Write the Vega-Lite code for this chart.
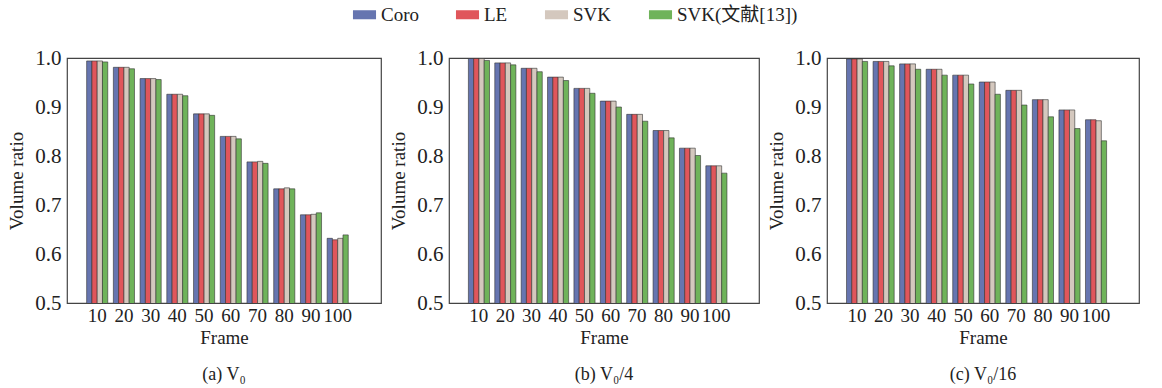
{
  "$schema": "https://vega.github.io/schema/vega-lite/v6.json",
  "padding": {"left": 7, "top": 4, "right": 0, "bottom": 0},
  "background": "white",
  "config": {
    "font": "Liberation Serif, Noto Sans CJK SC",
    "view": {"stroke": "#444", "strokeWidth": 1.2},
    "axis": {"grid": false, "ticks": false, "domain": false, "labelColor": "#222", "titleColor": "#222", "titleFontWeight": "normal", "labelFont": "Liberation Serif", "titleFont": "Liberation Serif"},
    "title": {"font": "Liberation Serif", "fontWeight": "normal", "fontSize": 18, "color": "#222"}
  },
  "datasets": {
    "a": [
      {"frame": 10, "method": "Coro", "value": 0.994}, {"frame": 10, "method": "LE", "value": 0.994}, {"frame": 10, "method": "SVK", "value": 0.994}, {"frame": 10, "method": "SVK(文献[13])", "value": 0.992},
      {"frame": 20, "method": "Coro", "value": 0.981}, {"frame": 20, "method": "LE", "value": 0.981}, {"frame": 20, "method": "SVK", "value": 0.981}, {"frame": 20, "method": "SVK(文献[13])", "value": 0.978},
      {"frame": 30, "method": "Coro", "value": 0.958}, {"frame": 30, "method": "LE", "value": 0.958}, {"frame": 30, "method": "SVK", "value": 0.958}, {"frame": 30, "method": "SVK(文献[13])", "value": 0.956},
      {"frame": 40, "method": "Coro", "value": 0.926}, {"frame": 40, "method": "LE", "value": 0.926}, {"frame": 40, "method": "SVK", "value": 0.926}, {"frame": 40, "method": "SVK(文献[13])", "value": 0.923},
      {"frame": 50, "method": "Coro", "value": 0.886}, {"frame": 50, "method": "LE", "value": 0.886}, {"frame": 50, "method": "SVK", "value": 0.886}, {"frame": 50, "method": "SVK(文献[13])", "value": 0.883},
      {"frame": 60, "method": "Coro", "value": 0.840}, {"frame": 60, "method": "LE", "value": 0.840}, {"frame": 60, "method": "SVK", "value": 0.840}, {"frame": 60, "method": "SVK(文献[13])", "value": 0.835},
      {"frame": 70, "method": "Coro", "value": 0.788}, {"frame": 70, "method": "LE", "value": 0.788}, {"frame": 70, "method": "SVK", "value": 0.789}, {"frame": 70, "method": "SVK(文献[13])", "value": 0.785},
      {"frame": 80, "method": "Coro", "value": 0.733}, {"frame": 80, "method": "LE", "value": 0.733}, {"frame": 80, "method": "SVK", "value": 0.735}, {"frame": 80, "method": "SVK(文献[13])", "value": 0.733},
      {"frame": 90, "method": "Coro", "value": 0.680}, {"frame": 90, "method": "LE", "value": 0.680}, {"frame": 90, "method": "SVK", "value": 0.681}, {"frame": 90, "method": "SVK(文献[13])", "value": 0.684},
      {"frame": 100, "method": "Coro", "value": 0.632}, {"frame": 100, "method": "LE", "value": 0.629}, {"frame": 100, "method": "SVK", "value": 0.632}, {"frame": 100, "method": "SVK(文献[13])", "value": 0.639}
    ],
    "b": [
      {"frame": 10, "method": "Coro", "value": 0.999}, {"frame": 10, "method": "LE", "value": 0.999}, {"frame": 10, "method": "SVK", "value": 0.999}, {"frame": 10, "method": "SVK(文献[13])", "value": 0.995},
      {"frame": 20, "method": "Coro", "value": 0.990}, {"frame": 20, "method": "LE", "value": 0.990}, {"frame": 20, "method": "SVK", "value": 0.990}, {"frame": 20, "method": "SVK(文献[13])", "value": 0.986},
      {"frame": 30, "method": "Coro", "value": 0.979}, {"frame": 30, "method": "LE", "value": 0.979}, {"frame": 30, "method": "SVK", "value": 0.979}, {"frame": 30, "method": "SVK(文献[13])", "value": 0.972},
      {"frame": 40, "method": "Coro", "value": 0.961}, {"frame": 40, "method": "LE", "value": 0.961}, {"frame": 40, "method": "SVK", "value": 0.961}, {"frame": 40, "method": "SVK(文献[13])", "value": 0.954},
      {"frame": 50, "method": "Coro", "value": 0.938}, {"frame": 50, "method": "LE", "value": 0.938}, {"frame": 50, "method": "SVK", "value": 0.938}, {"frame": 50, "method": "SVK(文献[13])", "value": 0.928},
      {"frame": 60, "method": "Coro", "value": 0.912}, {"frame": 60, "method": "LE", "value": 0.912}, {"frame": 60, "method": "SVK", "value": 0.912}, {"frame": 60, "method": "SVK(文献[13])", "value": 0.900},
      {"frame": 70, "method": "Coro", "value": 0.885}, {"frame": 70, "method": "LE", "value": 0.885}, {"frame": 70, "method": "SVK", "value": 0.885}, {"frame": 70, "method": "SVK(文献[13])", "value": 0.871},
      {"frame": 80, "method": "Coro", "value": 0.852}, {"frame": 80, "method": "LE", "value": 0.852}, {"frame": 80, "method": "SVK", "value": 0.852}, {"frame": 80, "method": "SVK(文献[13])", "value": 0.837},
      {"frame": 90, "method": "Coro", "value": 0.816}, {"frame": 90, "method": "LE", "value": 0.816}, {"frame": 90, "method": "SVK", "value": 0.816}, {"frame": 90, "method": "SVK(文献[13])", "value": 0.801},
      {"frame": 100, "method": "Coro", "value": 0.780}, {"frame": 100, "method": "LE", "value": 0.780}, {"frame": 100, "method": "SVK", "value": 0.780}, {"frame": 100, "method": "SVK(文献[13])", "value": 0.765}
    ],
    "c": [
      {"frame": 10, "method": "Coro", "value": 0.998}, {"frame": 10, "method": "LE", "value": 0.998}, {"frame": 10, "method": "SVK", "value": 0.998}, {"frame": 10, "method": "SVK(文献[13])", "value": 0.993},
      {"frame": 20, "method": "Coro", "value": 0.993}, {"frame": 20, "method": "LE", "value": 0.993}, {"frame": 20, "method": "SVK", "value": 0.993}, {"frame": 20, "method": "SVK(文献[13])", "value": 0.984},
      {"frame": 30, "method": "Coro", "value": 0.988}, {"frame": 30, "method": "LE", "value": 0.988}, {"frame": 30, "method": "SVK", "value": 0.988}, {"frame": 30, "method": "SVK(文献[13])", "value": 0.977},
      {"frame": 40, "method": "Coro", "value": 0.977}, {"frame": 40, "method": "LE", "value": 0.977}, {"frame": 40, "method": "SVK", "value": 0.977}, {"frame": 40, "method": "SVK(文献[13])", "value": 0.965},
      {"frame": 50, "method": "Coro", "value": 0.965}, {"frame": 50, "method": "LE", "value": 0.965}, {"frame": 50, "method": "SVK", "value": 0.965}, {"frame": 50, "method": "SVK(文献[13])", "value": 0.947},
      {"frame": 60, "method": "Coro", "value": 0.951}, {"frame": 60, "method": "LE", "value": 0.951}, {"frame": 60, "method": "SVK", "value": 0.951}, {"frame": 60, "method": "SVK(文献[13])", "value": 0.926},
      {"frame": 70, "method": "Coro", "value": 0.934}, {"frame": 70, "method": "LE", "value": 0.934}, {"frame": 70, "method": "SVK", "value": 0.934}, {"frame": 70, "method": "SVK(文献[13])", "value": 0.904},
      {"frame": 80, "method": "Coro", "value": 0.915}, {"frame": 80, "method": "LE", "value": 0.915}, {"frame": 80, "method": "SVK", "value": 0.915}, {"frame": 80, "method": "SVK(文献[13])", "value": 0.880},
      {"frame": 90, "method": "Coro", "value": 0.894}, {"frame": 90, "method": "LE", "value": 0.894}, {"frame": 90, "method": "SVK", "value": 0.894}, {"frame": 90, "method": "SVK(文献[13])", "value": 0.856},
      {"frame": 100, "method": "Coro", "value": 0.874}, {"frame": 100, "method": "LE", "value": 0.874}, {"frame": 100, "method": "SVK", "value": 0.872}, {"frame": 100, "method": "SVK(文献[13])", "value": 0.831}
    ]
  },
  "spacing": 7,
  "resolve": {"scale": {"color": "shared"}},
  "hconcat": [
    {
      "width": 314, "height": 245,
      "data": {"name": "a"},
      "title": {"text": "(a) V₀", "orient": "bottom", "offset": 19},
      "mark": {"type": "bar", "stroke": "#333", "strokeWidth": 0.6, "clip": true},
      "encoding": {
        "x": {"field": "frame", "type": "ordinal", "scale": {"paddingInner": 0.21, "paddingOuter": 0.98, "align": 0.375}, "axis": {"title": "Frame", "labelAngle": 0, "labelOverlap": false, "labelFontSize": 19, "titleFontSize": 19, "labelPadding": 3, "titlePadding": 3}},
        "xOffset": {"field": "method", "type": "nominal", "sort": ["Coro", "LE", "SVK", "SVK(文献[13])"], "scale": {"paddingInner": 0, "paddingOuter": 0}},
        "y": {"field": "value", "type": "quantitative", "scale": {"domain": [0.5, 1.0], "zero": false, "nice": false}, "axis": {"title": "Volume ratio", "values": [0.5, 0.6, 0.7, 0.8, 0.9, 1.0], "format": ".1f", "labelFontSize": 21, "titleFontSize": 19, "labelPadding": 6, "titlePadding": 8}},
        "color": {"field": "method", "type": "nominal", "scale": {"domain": ["Coro", "LE", "SVK", "SVK(文献[13])"], "range": ["#6675b0", "#e0565b", "#d4c8be", "#6fb35a"]},
          "legend": {"orient": "none", "legendX": 287, "legendY": -54, "direction": "horizontal", "title": null, "labelFontSize": 19, "labelFont": "Liberation Serif, Noto Sans CJK SC", "labelColor": "#222", "symbolType": "M-1.1,-0.43H1.1V0.43H-1.1Z", "symbolSize": 440, "symbolStrokeWidth": 0, "columnPadding": 36, "labelOffset": 6}}
      }
    },
    {
      "width": 310, "height": 245,
      "data": {"name": "b"},
      "title": {"text": "(b) V₀/4", "orient": "bottom", "offset": 19},
      "mark": {"type": "bar", "stroke": "#333", "strokeWidth": 0.6, "clip": true},
      "encoding": {
        "x": {"field": "frame", "type": "ordinal", "scale": {"paddingInner": 0.21, "paddingOuter": 0.98, "align": 0.375}, "axis": {"title": "Frame", "labelAngle": 0, "labelOverlap": false, "labelFontSize": 19, "titleFontSize": 19, "labelPadding": 3, "titlePadding": 3}},
        "xOffset": {"field": "method", "type": "nominal", "sort": ["Coro", "LE", "SVK", "SVK(文献[13])"], "scale": {"paddingInner": 0, "paddingOuter": 0}},
        "y": {"field": "value", "type": "quantitative", "scale": {"domain": [0.5, 1.0], "zero": false, "nice": false}, "axis": {"title": "Volume ratio", "values": [0.5, 0.6, 0.7, 0.8, 0.9, 1.0], "format": ".1f", "labelFontSize": 21, "titleFontSize": 19, "labelPadding": 6, "titlePadding": 8}},
        "color": {"field": "method", "type": "nominal", "legend": null}
      }
    },
    {
      "width": 312, "height": 245,
      "data": {"name": "c"},
      "title": {"text": "(c) V₀/16", "orient": "bottom", "offset": 19},
      "mark": {"type": "bar", "stroke": "#333", "strokeWidth": 0.6, "clip": true},
      "encoding": {
        "x": {"field": "frame", "type": "ordinal", "scale": {"paddingInner": 0.21, "paddingOuter": 0.98, "align": 0.375}, "axis": {"title": "Frame", "labelAngle": 0, "labelOverlap": false, "labelFontSize": 19, "titleFontSize": 19, "labelPadding": 3, "titlePadding": 3}},
        "xOffset": {"field": "method", "type": "nominal", "sort": ["Coro", "LE", "SVK", "SVK(文献[13])"], "scale": {"paddingInner": 0, "paddingOuter": 0}},
        "y": {"field": "value", "type": "quantitative", "scale": {"domain": [0.5, 1.0], "zero": false, "nice": false}, "axis": {"title": "Volume ratio", "values": [0.5, 0.6, 0.7, 0.8, 0.9, 1.0], "format": ".1f", "labelFontSize": 21, "titleFontSize": 19, "labelPadding": 6, "titlePadding": 8}},
        "color": {"field": "method", "type": "nominal", "legend": null}
      }
    }
  ]
}
